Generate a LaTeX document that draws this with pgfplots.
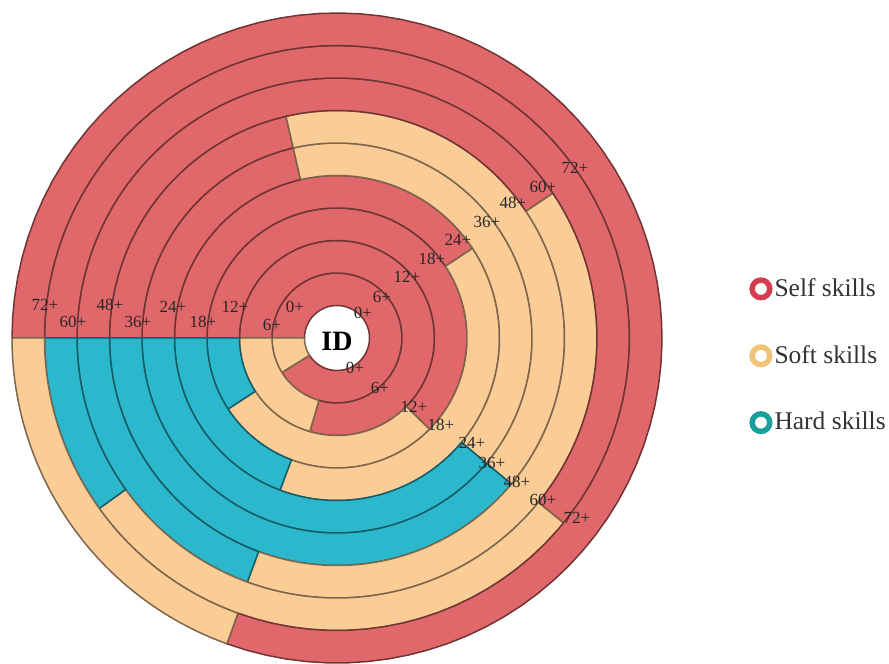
\documentclass[border=0pt]{standalone}
\usepackage{pgfplots}
\pgfplotsset{compat=1.18}
\usepackage{fontspec}
\setmainfont{Liberation Serif}
\definecolor{selfc}{RGB}{224,104,106}
\definecolor{softc}{RGB}{250,204,150}
\definecolor{hardc}{RGB}{44,184,204}
\definecolor{selfm}{RGB}{214,60,80}
\definecolor{softm}{RGB}{240,196,120}
\definecolor{hardm}{RGB}{26,160,156}
\newcommand{\cx}{337}
\newcommand{\cy}{326}
% one ring segment: inner r, outer r, start angle, end angle, colour
\newcommand{\seg}[5]{%
\addplot[fill=#5, draw=#5!50!black, line width=0.75pt, domain=0:3, samples=241, line join=round]
({\cx+ifthenelse(\x<1.5,#2,#1)*cos(ifthenelse(\x<1.5,(#3)+((#4)-(#3))*min(\x,1),(#4)+((#3)-(#4))*max(\x-2,0)))},
 {\cy+ifthenelse(\x<1.5,#2,#1)*sin(ifthenelse(\x<1.5,(#3)+((#4)-(#3))*min(\x,1),(#4)+((#3)-(#4))*max(\x-2,0)))}) -- cycle;
}
% one ring: index, self %, soft %, hard %
\newcommand{\ring}[4]{%
\pgfmathsetmacro\rin{32.5*(#1+1)}%
\pgfmathsetmacro\rout{32.5*(#1+2)}%
\pgfmathsetmacro\aB{180-3.6*(#2)}%
\pgfmathsetmacro\aC{180-3.6*((#2)+(#3))}%
\seg{\rin}{\rout}{180}{\aB}{selfc}
\seg{\rin}{\rout}{\aB}{\aC}{softc}
\ifdim #4pt>0pt \seg{\rin}{\rout}{\aC}{-180}{hardc}\fi
}
\newcommand{\lab}[3]{\node[font=\fontsize{8.5}{9}\selectfont, text=black!85, inner sep=0pt] at (axis cs:#1,664-#2) {#3};}
\begin{document}
\begin{tikzpicture}
\begin{axis}[width=444.5pt,height=332pt,scale only axis,
  xmin=0,xmax=889,ymin=0,ymax=664,hide axis,clip=false,
  legend style={at={(axis cs:749,388)},anchor=north west,draw=none,fill=none,
    font=\fontsize{12.75}{14}\selectfont,row sep=21pt,inner sep=0pt,
    nodes={inner sep=1pt,text=black!80}},
  legend cell align=left]
\addlegendimage{legend image code/.code={\draw[selfm,line width=2.75pt] (4pt,0pt) circle (4.4pt);}}
\addlegendimage{legend image code/.code={\draw[softm,line width=2.75pt] (4pt,0pt) circle (4.4pt);}}
\addlegendimage{legend image code/.code={\draw[hardm,line width=2.75pt] (4pt,0pt) circle (4.4pt);}}
% rings from inside (0+) to outside (72+): Self, Soft, Hard shares in percent
\ring{0}{91.1}{8.9}{0}
\ring{1}{79.5}{20.5}{0}
\ring{2}{62.4}{28.4}{9.2}
\ring{3}{40.7}{40.0}{19.3}
\ring{4}{21.4}{39.7}{38.9}
\ring{5}{21.4}{39.7}{38.9}
\ring{6}{40.6}{40.0}{19.4}
\ring{7}{60.9}{29.2}{9.9}
\ring{8}{80.5}{19.5}{0}
\node[font=\bfseries\fontsize{14}{15}\selectfont] at (axis cs:337,323) {ID};
% left labels
\lab{45}{305}{72+}\lab{73}{322}{60+}\lab{110}{305}{48+}\lab{138}{322}{36+}
\lab{173}{307}{24+}\lab{203}{322}{18+}\lab{235}{307}{12+}\lab{272}{325}{6+}\lab{295}{307}{0+}
% upper right labels
\lab{363}{313}{0+}\lab{382}{297}{6+}\lab{407}{277}{12+}\lab{432}{259}{18+}
\lab{458}{240}{24+}\lab{487}{222}{36+}\lab{513}{203}{48+}\lab{543}{187}{60+}\lab{575}{168}{72+}
% lower right labels
\lab{355}{368}{0+}\lab{380}{388}{6+}\lab{414}{407}{12+}\lab{441}{425}{18+}
\lab{472}{443}{24+}\lab{492}{463}{36+}\lab{517}{482}{48+}\lab{543}{500}{60+}\lab{577}{518}{72+}
\legend{Self skills, Soft skills, Hard skills}
\end{axis}
\pgfresetboundingbox
\path[use as bounding box] (0,0) rectangle (444.5pt,332pt);
\end{tikzpicture}
\end{document}
